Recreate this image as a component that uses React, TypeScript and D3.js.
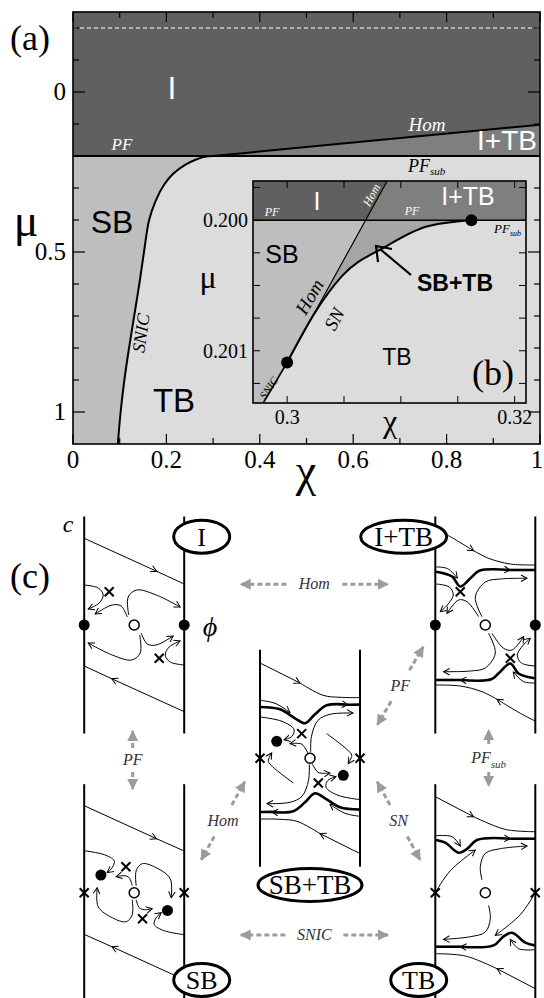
import React from 'react';
import * as d3 from 'd3';

type P = [number, number];

// ---------------- panel (a) data ----------------
const xMajor = [0, 0.2, 0.4, 0.6, 0.8, 1];
const xMajorLabels = ['0', '0.2', '0.4', '0.6', '0.8', '1'];
const xMinor = [0.1, 0.3, 0.5, 0.7, 0.9];
const yMajor = [0, 0.5, 1];
const yMajorLabels = ['0', '0.5', '1'];
const yMinor = [-0.2, -0.1, 0.1, 0.2, 0.3, 0.4, 0.6, 0.7, 0.8, 0.9];

const snicChi = [0.3, 0.285, 0.265, 0.24, 0.215, 0.195, 0.177, 0.163, 0.152, 0.142, 0.131, 0.12, 0.11, 0.102, 0.096];
const snicMu = [0.2, 0.202, 0.21, 0.228, 0.255, 0.29, 0.34, 0.4, 0.5, 0.6, 0.7, 0.8, 0.9, 1.0, 1.1];
const homChi = [0.3, 1.0];
const homMu = [0.2, 0.102];
const pfMu = 0.2;
const dashMu = -0.2;

// ---------------- inset (b) data ----------------
const bXTicks = [0.3, 0.305, 0.31, 0.315, 0.32];
const bXLabelVals = [0.3, 0.32];
const bXLabels = ['0.3', '0.32'];
const bYTicks = [0.19975, 0.2, 0.20025, 0.2005, 0.20075, 0.201, 0.20125];
const bYLabelVals = [0.2, 0.201];
const bYLabels = ['0.200', '0.201'];
const cusp: P = [0.3, 0.20109];
const homTop: P = [0.3088, 0.1997];
const snicBottom: P = [0.2979, 0.2014];
const snChi = [0.3, 0.3025, 0.3048, 0.3087, 0.3122, 0.3162];
const snMu = [0.20109, 0.2007, 0.20043, 0.2002, 0.20005, 0.2];

// ---------------- colours ----------------
const cI = '#606060';
const cITB = '#7f7f7f';
const cSB = '#bebebe';
const cTB = '#dcdcdc';
const cSBTB = '#a6a6a6';

// ---------------- panel (c) schematic data ----------------
interface Stroke { pts: P[]; w?: number; arrow?: 'end' | number; curve?: boolean }
interface Box {
  name: string; c: P; strokes: Stroke[]; crosses: P[]; dots: P[]; wallMark: 'dot' | 'cross';
  ell: { d: P; rx: number; label: string };
}

const boxes: Box[] = [
  {
    name: 'I', c: [134.2, 625], wallMark: 'dot',
    ell: { d: [67.5, -88.3], rx: 28, label: 'I' },
    strokes: [
      { pts: [[-50, -86.7], [22.5, -53.7], [50, -41]], arrow: 1, curve: false },
      { pts: [[-50, -40], [-36, -37], [-31, -30], [-35, -22], [-46, -16]], arrow: 'end' },
      { pts: [[-7, -8], [-13, -19], [-22, -20], [-39, -11]], arrow: 'end' },
      { pts: [[-5.5, -10], [-6, -28], [2.5, -35], [22, -30], [46, -18]], arrow: 'end' },
    ],
    crosses: [[-25, -33.3]], dots: [],
  },
  {
    name: 'I+TB', c: [485.3, 625], wallMark: 'dot',
    ell: { d: [-81.6, -88.3], rx: 43, label: 'I+TB' },
    strokes: [
      { pts: [[-50, -96], [-38, -90], [-11.7, -74.3], [3.3, -66.7], [25, -61], [50, -60]], arrow: 2 },
      { pts: [[-49.3, -53.3], [-33.3, -48.5], [-25, -38.5], [-13.3, -48.3], [-6, -54.3], [25, -55], [50, -55]], w: 2.6, arrow: 5 },
      { pts: [[-49.3, -58], [-38, -56.5], [-28, -47]], arrow: 'end' },
      { pts: [[-49.3, -41], [-36, -38], [-32, -30], [-38, -20], [-45, -13.3]], arrow: 'end' },
      { pts: [[-6.7, -8.3], [-18.3, -23.3], [-26.7, -25], [-38.3, -11.7]], arrow: 'end' },
      { pts: [[-3.3, -8.3], [-10, -28], [0, -43], [15, -46], [41.7, -46.7]], arrow: 'end' },
    ],
    crosses: [[-25, -33.3]], dots: [],
  },
  {
    name: 'SB+TB', c: [310, 758.3], wallMark: 'cross',
    ell: { d: [0, 126.7], rx: 52, label: 'SB+TB' },
    strokes: [
      { pts: [[-50, -95.3], [-10, -75.3], [13, -63], [30, -61], [50, -60.7]], arrow: 1 },
      { pts: [[-50, -51.3], [-30, -49], [-15, -40], [-5, -35], [5, -44], [16.7, -53], [38, -53.6], [50, -53.7]], w: 2.6, arrow: 6 },
      { pts: [[-50, -58], [-35, -55], [-20, -46]], arrow: 'end' },
      { pts: [[-50, -41.3], [-28, -37], [-16, -29], [-18, -22], [-26, -18.5]], arrow: 'end' },
      { pts: [[-2, -5], [-8, -14], [-14, -15], [-20, -14.7]], arrow: 'end' },
      { pts: [[0.7, -6], [1.5, -22], [8, -38], [20, -44], [43, -45.3]], arrow: 'end' },
      { pts: [[16.7, -24.7], [37.3, -8.5], [41.7, -3], [38.3, 5.3]], arrow: 'end' },
    ],
    crosses: [[-8.3, -24.7]], dots: [[-33.3, -17]],
  },
  {
    name: 'SB', c: [134.2, 892.7], wallMark: 'cross',
    ell: { d: [67.5, 87.3], rx: 28, label: 'SB' },
    strokes: [
      { pts: [[-50, -87], [22.3, -54], [50, -41.7]], arrow: 1, curve: false },
      { pts: [[-50, -42], [-30, -38], [-20, -32], [-22, -25], [-27, -20]], arrow: 'end' },
      { pts: [[-2, -7], [-5, -15], [-10, -17], [-18, -16]], arrow: 'end' },
      { pts: [[2, -7], [2, -22], [8, -29], [22, -25], [36, -14], [37, 5]], arrow: 'end' },
    ],
    crosses: [[-8.3, -26]], dots: [[-33.3, -17.7]],
  },
  {
    name: 'TB', c: [485.3, 892.7], wallMark: 'cross',
    ell: { d: [-66.6, 87.3], rx: 28, label: 'TB' },
    strokes: [
      { pts: [[-50, -96], [-11.7, -76], [20, -63.3], [50, -61]], arrow: 1 },
      { pts: [[-49.3, -52.7], [-40, -50], [-26.7, -40], [-18, -44], [-8.3, -52.7], [25, -54], [50, -54]], w: 2.6, arrow: 5 },
      { pts: [[-49.3, -57], [-33.3, -56], [-25, -46.7]], arrow: 'end' },
      { pts: [[-50, 0], [-35, -22], [-10, -42.7]], arrow: 'end' },
      { pts: [[-3.3, -12.7], [-5, -26], [0, -39.3], [15, -44], [41.7, -46.7]], arrow: 'end' },
    ],
    crosses: [], dots: [],
  },
];

interface GArrow { a: P; b: P; label: string; sub?: string; gap: number }
const gArrows: GArrow[] = [
  { a: [236.7, 584.3], b: [392, 584.3], label: 'Hom', gap: 28 },
  { a: [132.7, 727], b: [132.7, 793], label: 'PF', gap: 12 },
  { a: [425.3, 643.3], b: [375.3, 728.3], label: 'PF', gap: 18 },
  { a: [488.7, 726], b: [488.7, 790], label: 'PF', sub: 'sub', gap: 14 },
  { a: [246.7, 778.3], b: [199.3, 863.3], label: 'Hom', gap: 18 },
  { a: [375.3, 778.3], b: [422, 863.3], label: 'SN', gap: 18 },
  { a: [236.7, 935], b: [392, 935], label: 'SNIC', gap: 29 },
];

const SERIF = "'Liberation Serif', 'Times New Roman', Times, serif";
const SANS = "'Liberation Sans', Arial, Helvetica, sans-serif";

export default function App() {
  // panel (a) scales
  const xS = d3.scaleLinear().domain([0, 1]).range([73, 540]);
  const yS = d3.scaleLinear().domain([-0.25, 1.1]).range([12, 444]);
  const [x0, x1] = xS.range();
  const [y0, y1] = yS.range();

  const lineA = d3.line<P>().x(d => xS(d[0])).y(d => yS(d[1])).curve(d3.curveCatmullRom.alpha(0.5));
  const snicPts: P[] = snicChi.map((c, i) => [c, snicMu[i]]);
  const snicPath = lineA(snicPts) as string;
  const sbPath = snicPath + `L${xS(0)},${yS(1.1)}L${xS(0)},${yS(pfMu)}Z`;
  const iPath = `M${xS(0)},${yS(-0.25)}L${xS(1)},${yS(-0.25)}L${xS(homChi[1])},${yS(homMu[1])}L${xS(homChi[0])},${yS(homMu[0])}L${xS(0)},${yS(pfMu)}Z`;
  const itbPath = `M${xS(homChi[0])},${yS(homMu[0])}L${xS(homChi[1])},${yS(homMu[1])}L${xS(1)},${yS(pfMu)}Z`;

  // inset scales
  const x2 = d3.scaleLinear().domain([0.297, 0.321]).range([253, 526]);
  const y2 = d3.scaleLinear().domain([0.1997, 0.2014]).range([181, 403]);
  const [bx0, bx1] = x2.range();
  const [by0, by1] = y2.range();
  const homAtPF = cusp[0] + (homTop[0] - cusp[0]) * (cusp[1] - 0.2) / (cusp[1] - homTop[1]);
  const pt2 = (p: P) => `${x2(p[0])},${y2(p[1])}`;
  const lineB = d3.line<P>().x(d => x2(d[0])).y(d => y2(d[1])).curve(d3.curveMonotoneX);
  const snPts: P[] = snChi.map((c, i) => [c, snMu[i]]);
  const snPath = lineB(snPts) as string;
  const snRev = (lineB([...snPts].reverse()) as string).replace(/^M/, 'L');
  const bIPath = `M${pt2([0.297, 0.1997])}L${pt2(homTop)}L${pt2([homAtPF, 0.2])}L${pt2([0.297, 0.2])}Z`;
  const bSBPath = `M${pt2([0.297, 0.2])}L${pt2([homAtPF, 0.2])}L${pt2(cusp)}L${pt2(snicBottom)}L${pt2([0.297, 0.2014])}Z`;
  const bSBTBPath = `M${pt2(cusp)}L${pt2([homAtPF, 0.2])}L${pt2([snChi[snChi.length - 1], 0.2])}` + snRev + 'Z';

  // panel (c) helpers
  const lineC = d3.line<P>().curve(d3.curveCatmullRom.alpha(0.5));
  const lineStraight = d3.line<P>();
  const renderHalf = (b: Box, key: string) => (
    <g key={key}>
      {b.strokes.map((s, i) => {
        const gen = s.curve === false ? lineStraight : lineC;
        const w = s.w ?? 1;
        if (typeof s.arrow === 'number') {
          const a = s.pts.slice(0, s.arrow + 1);
          const c = s.pts.slice(s.arrow);
          return (
            <g key={i}>
              <path d={gen(a) as string} fill="none" stroke="#000" strokeWidth={w} markerEnd="url(#chev)" />
              <path d={gen(c) as string} fill="none" stroke="#000" strokeWidth={w} />
            </g>
          );
        }
        return <path key={i} d={gen(s.pts) as string} fill="none" stroke="#000" strokeWidth={w} markerEnd={s.arrow === 'end' ? 'url(#chev)' : undefined} />;
      })}
      {b.crosses.map((p, i) => <Cross key={'x' + i} p={p} />)}
      {b.dots.map((p, i) => <circle key={'d' + i} cx={p[0]} cy={p[1]} r={5.5} fill="#000" />)}
      {b.wallMark === 'dot' ? <circle cx={-50} cy={0} r={5.5} fill="#000" /> : <Cross p={[-50, 0]} />}
    </g>
  );

  return (
    <svg width={544} height={998} viewBox="0 0 544 998" style={{ display: 'block', position: 'absolute', left: 0, top: 0 }}>
      <defs>
        <clipPath id="clipA"><rect x={x0} y={y0} width={x1 - x0} height={y1 - y0} /></clipPath>
        <clipPath id="clipB"><rect x={bx0} y={by0} width={bx1 - bx0} height={by1 - by0} /></clipPath>
        <marker id="chev" viewBox="-8 -5 10 10" refX={0} refY={0} markerWidth={10} markerHeight={10} markerUnits="userSpaceOnUse" orient="auto">
          <path d="M-6,-3.3L0,0L-6,3.3" fill="none" stroke="#000" strokeWidth={1} />
        </marker>
        <marker id="gar" viewBox="-11 -7 13 14" refX={0} refY={0} markerWidth={13} markerHeight={14} markerUnits="userSpaceOnUse" orient="auto">
          <path d="M-10,-5.5L1,0L-10,5.5Z" fill="#9c9c9c" />
        </marker>
      </defs>
      <rect x={0} y={0} width={544} height={998} fill="#fff" />

      {/* ---------------- panel (a) ---------------- */}
      <g clipPath="url(#clipA)">
        <rect x={x0} y={y0} width={x1 - x0} height={y1 - y0} fill={cTB} />
        <path d={iPath} fill={cI} />
        <path d={itbPath} fill={cITB} />
        <path d={sbPath} fill={cSB} />
        <line x1={x0} x2={x1} y1={yS(dashMu)} y2={yS(dashMu)} stroke="#fff" strokeWidth={1} strokeDasharray="4 3" />
        <line x1={x0} x2={x1} y1={yS(pfMu)} y2={yS(pfMu)} stroke="#000" strokeWidth={2} />
        <line x1={xS(homChi[0])} y1={yS(homMu[0])} x2={xS(homChi[1])} y2={yS(homMu[1])} stroke="#000" strokeWidth={2} />
        <path d={snicPath} fill="none" stroke="#000" strokeWidth={2} />
      </g>
      {/* ticks */}
      <g stroke="#000" strokeWidth={1.2}>
        {xMajor.map(v => (
          <g key={'xm' + v}>
            <line x1={xS(v)} x2={xS(v)} y1={y1} y2={y1 - 10} />
            <line x1={xS(v)} x2={xS(v)} y1={y0} y2={y0 + 10} />
          </g>
        ))}
        {xMinor.map(v => (
          <g key={'xn' + v}>
            <line x1={xS(v)} x2={xS(v)} y1={y1} y2={y1 - 6} />
            <line x1={xS(v)} x2={xS(v)} y1={y0} y2={y0 + 6} />
          </g>
        ))}
        {yMajor.map(v => (
          <g key={'ym' + v}>
            <line x1={x0} x2={x0 + 12} y1={yS(v)} y2={yS(v)} />
            <line x1={x1} x2={x1 - 12} y1={yS(v)} y2={yS(v)} />
          </g>
        ))}
        {yMinor.map(v => (
          <g key={'yn' + v}>
            <line x1={x0} x2={x0 + 6} y1={yS(v)} y2={yS(v)} />
            <line x1={x1} x2={x1 - 6} y1={yS(v)} y2={yS(v)} />
          </g>
        ))}
      </g>
      <rect x={x0} y={y0} width={x1 - x0} height={y1 - y0} fill="none" stroke="#000" strokeWidth={1.6} />
      <g fontFamily={SERIF} fontSize={25} fill="#000">
        {xMajor.map((v, i) => <text key={'xl' + v} x={Math.min(xS(v), 537)} y={468} textAnchor="middle">{xMajorLabels[i]}</text>)}
        {yMajor.map((v, i) => <text key={'yl' + v} x={66} y={yS(v) + 8} textAnchor="end">{yMajorLabels[i]}</text>)}
      </g>
      <text x={26} y={236} fontFamily={SERIF} fontSize={46} textAnchor="middle">μ</text>
      <text x={306} y={486} fontFamily={SERIF} fontSize={46} textAnchor="middle">χ</text>
      <text x={10} y={50} fontFamily={SERIF} fontSize={36}>(a)</text>

      {/* region labels (a) */}
      <text x={xS(0.212)} y={yS(0.022)} fontFamily={SANS} fontSize={32} fill="#fff" textAnchor="middle">I</text>
      <text x={122} y={150} fontFamily={SERIF} fontStyle="italic" fontSize={17} fill="#fff" textAnchor="middle">PF</text>
      <text x={427} y={131} fontFamily={SERIF} fontStyle="italic" fontSize={19} fill="#fff" textAnchor="middle">Hom</text>
      <text x={537} y={150} fontFamily={SANS} fontSize={28} fill="#fff" textAnchor="end">I+TB</text>
      <text x={408} y={172} fontFamily={SERIF} fontStyle="italic" fontSize={18} fill="#000">PF<tspan fontSize={11} dy={3}>sub</tspan></text>
      <text x={112} y={233} fontFamily={SANS} fontSize={32} textAnchor="middle">SB</text>
      <text x={174} y={412} fontFamily={SANS} fontSize={33} textAnchor="middle">TB</text>
      <text transform="translate(147,334) rotate(-82)" fontFamily={SERIF} fontStyle="italic" fontSize={18} textAnchor="middle">SNIC</text>

      {/* ---------------- inset (b) ---------------- */}
      <g clipPath="url(#clipB)">
        <rect x={bx0} y={by0} width={bx1 - bx0} height={by1 - by0} fill={cTB} />
        <rect x={bx0} y={by0} width={bx1 - bx0} height={y2(0.2) - by0} fill={cITB} />
        <path d={bIPath} fill={cI} />
        <path d={bSBPath} fill={cSB} />
        <path d={bSBTBPath} fill={cSBTB} />
        <line x1={bx0} x2={bx1} y1={y2(0.2)} y2={y2(0.2)} stroke="#000" strokeWidth={1.6} />
        <line x1={x2(cusp[0])} y1={y2(cusp[1])} x2={x2(homTop[0])} y2={y2(homTop[1])} stroke="#000" strokeWidth={1.2} />
        <line x1={x2(cusp[0])} y1={y2(cusp[1])} x2={x2(snicBottom[0])} y2={y2(snicBottom[1])} stroke="#000" strokeWidth={1.6} />
        <path d={snPath} fill="none" stroke="#000" strokeWidth={2} />
        <circle cx={x2(cusp[0])} cy={y2(cusp[1])} r={6} fill="#000" />
        <circle cx={x2(snChi[snChi.length - 1])} cy={y2(0.2)} r={6} fill="#000" />
      </g>
      <g stroke="#000" strokeWidth={1}>
        {bXTicks.map(v => (
          <g key={'bx' + v}>
            <line x1={x2(v)} x2={x2(v)} y1={by1} y2={by1 - 7} />
            <line x1={x2(v)} x2={x2(v)} y1={by0} y2={by0 + 7} />
          </g>
        ))}
        {bYTicks.map(v => (
          <g key={'by' + v}>
            <line x1={bx0} x2={bx0 + 7} y1={y2(v)} y2={y2(v)} />
            <line x1={bx1} x2={bx1 - 7} y1={y2(v)} y2={y2(v)} />
          </g>
        ))}
      </g>
      <rect x={bx0} y={by0} width={bx1 - bx0} height={by1 - by0} fill="none" stroke="#000" strokeWidth={1.6} />
      <g fontFamily={SERIF} fontSize={20}>
        {bXLabelVals.map((v, i) => <text key={'bxl' + v} x={x2(v)} y={424} textAnchor="middle">{bXLabels[i]}</text>)}
        {bYLabelVals.map((v, i) => <text key={'byl' + v} x={248} y={y2(v) + 7} textAnchor="end">{bYLabels[i]}</text>)}
      </g>
      <text x={208} y={288} fontFamily={SERIF} fontSize={32} textAnchor="middle">μ</text>
      <text x={390} y={432} fontFamily={SERIF} fontSize={32} textAnchor="middle">χ</text>
      <text x={317} y={210} fontFamily={SANS} fontSize={25} fill="#fff" textAnchor="middle">I</text>
      <text x={468} y={205} fontFamily={SANS} fontSize={25} fill="#fff" textAnchor="middle">I+TB</text>
      <text x={272} y={216} fontFamily={SERIF} fontStyle="italic" fontSize={12} fill="#fff" textAnchor="middle">PF</text>
      <text x={412} y={215} fontFamily={SERIF} fontStyle="italic" fontSize={12} fill="#fff" textAnchor="middle">PF</text>
      <text transform="translate(375,197) rotate(-62)" fontFamily={SERIF} fontStyle="italic" fontSize={12} fill="#fff" textAnchor="middle">Hom</text>
      <text x={494} y={233} fontFamily={SERIF} fontStyle="italic" fontSize={13}>PF<tspan fontSize={8} dy={3}>sub</tspan></text>
      <text x={282} y={263} fontFamily={SANS} fontSize={25} textAnchor="middle">SB</text>
      <text x={397} y={365} fontFamily={SANS} fontSize={23} textAnchor="middle">TB</text>
      <text transform="translate(315,300) rotate(-60)" fontFamily={SERIF} fontStyle="italic" fontSize={19} textAnchor="middle">Hom</text>
      <text transform="translate(340,322) rotate(-62)" fontFamily={SERIF} fontStyle="italic" fontSize={19} textAnchor="middle">SN</text>
      <text transform="translate(272,390) rotate(-56)" fontFamily={SERIF} fontStyle="italic" fontSize={11} textAnchor="middle">SNIC</text>
      <text x={493} y={385} fontFamily={SERIF} fontSize={36} textAnchor="middle">(b)</text>
      <text x={455} y={291} fontFamily={SANS} fontWeight="bold" fontSize={23} textAnchor="middle">SB+TB</text>
      <line x1={411} y1={275} x2={380} y2={249} stroke="#000" strokeWidth={2.2} />
      <path d="M378,262 L376,246 L392,249" fill="none" stroke="#000" strokeWidth={2.2} />

      {/* ---------------- panel (c) ---------------- */}
      <text x={68} y={532} fontFamily={SERIF} fontStyle="italic" fontSize={24} textAnchor="middle">c</text>
      <text x={210} y={636} fontFamily={SERIF} fontStyle="italic" fontSize={28} textAnchor="middle">ϕ</text>
      <text x={10} y={588} fontFamily={SERIF} fontSize={36}>(c)</text>

      {gArrows.map((g, i) => {
        const mx = (g.a[0] + g.b[0]) / 2;
        const my = (g.a[1] + g.b[1]) / 2;
        const dx = g.b[0] - g.a[0];
        const dy = g.b[1] - g.a[1];
        const L = Math.hypot(dx, dy);
        const ux = dx / L, uy = dy / L;
        return (
          <g key={'ga' + i}>
            <line x1={mx - ux * g.gap} y1={my - uy * g.gap} x2={g.a[0] + ux * 4} y2={g.a[1] + uy * 4} stroke="#9c9c9c" strokeWidth={3} strokeDasharray="5 3" markerEnd="url(#gar)" />
            <line x1={mx + ux * g.gap} y1={my + uy * g.gap} x2={g.b[0] - ux * 4} y2={g.b[1] - uy * 4} stroke="#9c9c9c" strokeWidth={3} strokeDasharray="5 3" markerEnd="url(#gar)" />
            <text x={mx} y={my + 5} fontFamily={SERIF} fontStyle="italic" fontSize={16} fill="#333" textAnchor="middle">
              {g.label}{g.sub ? <tspan fontSize={11} dy={5}>{g.sub}</tspan> : null}
            </text>
          </g>
        );
      })}

      {boxes.map(b => (
        <g key={b.name} transform={`translate(${b.c[0]},${b.c[1]})`}>
          <line x1={-50} x2={-50} y1={-108.5} y2={108.5} stroke="#000" strokeWidth={2} />
          <line x1={50} x2={50} y1={-108.5} y2={108.5} stroke="#000" strokeWidth={2} />
          {renderHalf(b, 'h1')}
          <g transform="rotate(180)">{renderHalf(b, 'h2')}</g>
          <circle cx={0} cy={0} r={5} fill="#fff" stroke="#000" strokeWidth={1.5} />
          <ellipse cx={b.ell.d[0]} cy={b.ell.d[1]} rx={b.ell.rx} ry={16.5} fill="#fff" stroke="#000" strokeWidth={3} />
          <text x={b.ell.d[0]} y={b.ell.d[1] + 9} fontFamily={SERIF} fontSize={b.ell.label.length > 3 ? 27 : 26} textAnchor="middle">{b.ell.label}</text>
        </g>
      ))}
    </svg>
  );
}

function Cross({ p }: { p: P }) {
  const s = 4.5;
  return (
    <g stroke="#000" strokeWidth={2}>
      <line x1={p[0] - s} y1={p[1] - s} x2={p[0] + s} y2={p[1] + s} />
      <line x1={p[0] - s} y1={p[1] + s} x2={p[0] + s} y2={p[1] - s} />
    </g>
  );
}
